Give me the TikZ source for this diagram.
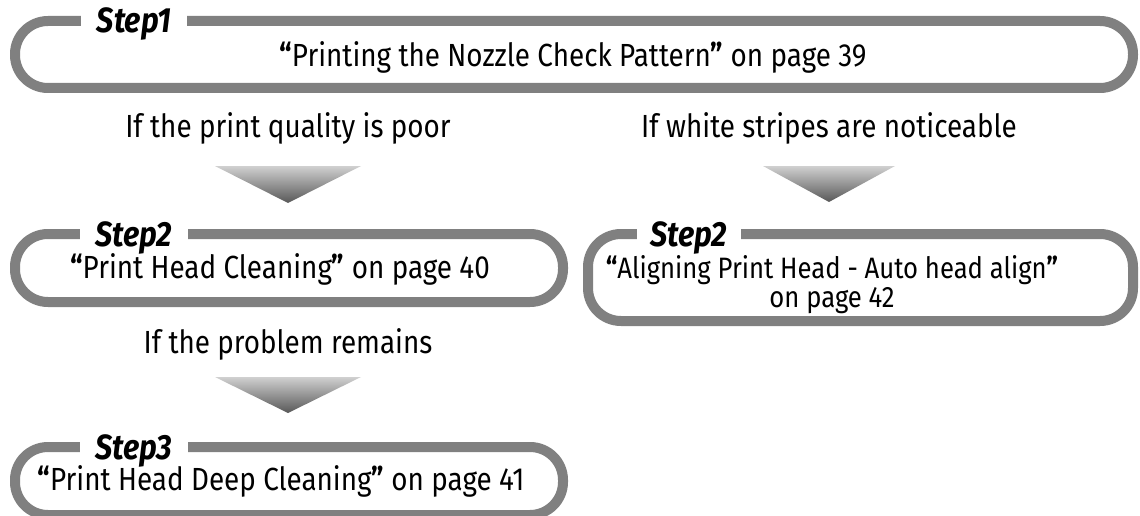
\documentclass[tikz,border=0pt]{standalone}
\usepackage{fontspec}
\setmainfont{Fira Sans}[FakeStretch=0.87]
\usetikzlibrary{positioning, calc}
\definecolor{grisMarco}{RGB}{128, 128, 128}
\definecolor{grisClaro}{RGB}{208, 208, 208}
\definecolor{grisOscuro}{RGB}{88, 88, 88}

\begin{document}
\begin{tikzpicture}[x=1pt, y=-1pt,
        marco/.style={rectangle, draw=grisMarco, line width=10pt, rounded corners=33pt, inner sep=0pt},
        paso/.style={fill=white, inner xsep=16pt, inner ysep=3pt, anchor=base, font=\fontsize{35}{38}\selectfont\bfseries\itshape},
        texto/.style={anchor=base, inner sep=0pt, align=center, font=\fontsize{32}{29}\selectfont},
        flecha/.style={top color=grisClaro, bottom color=grisOscuro}]
        \useasboundingbox (0,0) rectangle (1140,516);
        % marcos
        \node[marco, minimum width=1118pt, minimum height=67pt] (m1) at (574,54.5) {};
        \node[marco, minimum width=548pt, minimum height=68pt] (m2) at (289,268) {};
        \node[marco, minimum width=545pt, minimum height=87pt] (m2b) at (860.5,277.5) {};
        \node[marco, minimum width=548pt, minimum height=68pt] (m3) at (289,481) {};
        % etiquetas
        \node[paso] (p1) at (134,33) {Step1};
        \node[paso] (p2) at (134,246) {Step2};
        \node[paso, inner xsep=14pt] (p2b) at (689,246) {Step2};
        \node[paso] (p3) at (134,459) {Step3};
        % textos
        \node[texto] (t1) at (573,67) {\textbf{“}Printing the Nozzle Check Pattern\textbf{”} on page 39};
        \node[texto] (t2) at (280,278) {\textbf{“}Print Head Cleaning\textbf{”} on page 40};
        \node[texto, font=\fontsize{29.5}{29}\selectfont] (t2b) at (832,307) {\textbf{“}Aligning Print Head - Auto head align\textbf{”}\\on page 42};
        \node[texto] (t3) at (281,490) {\textbf{“}Print Head Deep Cleaning\textbf{”} on page 41};
        % condiciones
        \node[texto] (c1) at (288,138) {If the print quality is poor};
        \node[texto] (c2) at (829,138) {If white stripes are noticeable};
        \node[texto] (c3) at (288,353) {If the problem remains};
        % flechas
        \shade[flecha] (215,166) -- (361,166) -- (288,203) -- cycle;
        \shade[flecha] (763,166) -- (895,166) -- (829,202) -- cycle;
        \shade[flecha] (215,377) -- (361,377) -- (288,413) -- cycle;
    \end{tikzpicture}
\end{document}
